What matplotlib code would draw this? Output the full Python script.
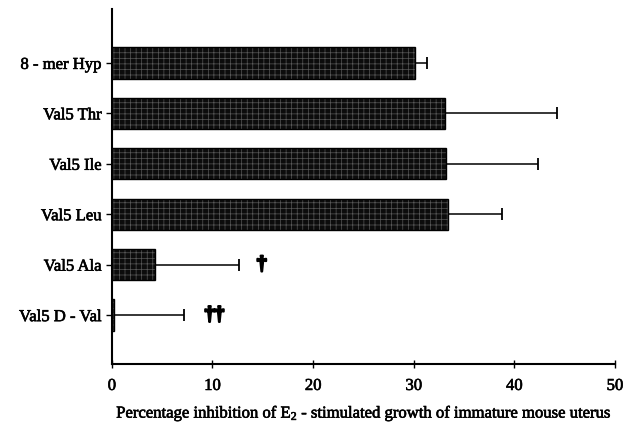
import matplotlib
matplotlib.use("Agg")
import matplotlib.pyplot as plt
import matplotlib.patheffects as pe

# data (top to bottom)
peptides = ["8 - mer Hyp", "Val5 Thr", "Val5 Ile", "Val5 Leu", "Val5 Ala", "Val5 D - Val"]
inhibition = [30.1, 33.1, 33.2, 33.4, 4.3, 0.2]
sem = [1.2, 11.1, 9.2, 5.4, 8.3, 7.0]
marks = ["", "", "", "", "\u2020", "\u2020\u2020"]
mark_x = [0, 0, 0, 0, 14.9, 10.2]

plt.rcParams["font.family"] = ["Liberation Serif", "DejaVu Serif"]
plt.rcParams["mathtext.fontset"] = "custom"
plt.rcParams["mathtext.rm"] = "Liberation Serif"
plt.rcParams["mathtext.it"] = "Liberation Serif:italic"
plt.rcParams["hatch.linewidth"] = 0.5

# scanned print look: slightly heavier strokes on text
thick = [pe.withStroke(linewidth=0.45, foreground="black")]

fig = plt.figure(figsize=(6.32, 4.31), dpi=100)
ax = fig.add_axes([0.177, 0.153, 0.796, 0.824])

n = len(peptides)
ypos = list(range(n - 1, -1, -1))

# dark bars with a fine light speckle (hatch), then a black outline
ax.barh(ypos, inhibition, height=0.62, color="#0c0c0c", edgecolor="#585858",
        hatch="+++", linewidth=0, zorder=2)
ax.barh(ypos, inhibition, height=0.62, facecolor="none", edgecolor="black",
        linewidth=1.0, zorder=3)
ax.errorbar(inhibition, ypos, xerr=[[0] * n, sem], fmt="none", ecolor="black",
            elinewidth=1.1, capsize=4, capthick=1.3, zorder=1)

for y, m, mx in zip(ypos, marks, mark_x):
    if m:
        ax.text(mx, y, m, ha="center", va="center", fontsize=14, fontweight="bold",
                path_effects=[pe.withStroke(linewidth=1.6, foreground="black")])

ax.set_xlim(0, 50)
ax.set_ylim(-0.97, n - 1 + 1.07)
ax.set_xticks([0, 10, 20, 30, 40, 50])
ax.set_yticks(ypos)
ax.set_yticklabels(peptides, fontsize=12)
ax.tick_params(axis="x", labelsize=12, direction="inout", length=6, width=1, pad=7)
ax.tick_params(axis="y", direction="out", length=4, width=1)
ax.set_xlabel(r"Percentage inhibition of E$_\mathrm{2}$ - stimulated growth of immature mouse uterus",
              fontsize=12, labelpad=7)

for lab in ax.get_xticklabels() + ax.get_yticklabels() + [ax.xaxis.label]:
    lab.set_path_effects(thick)

for s in ["top", "right"]:
    ax.spines[s].set_visible(False)
for s in ["left", "bottom"]:
    ax.spines[s].set_linewidth(1.5)

fig.savefig("out.png", dpi=100)
